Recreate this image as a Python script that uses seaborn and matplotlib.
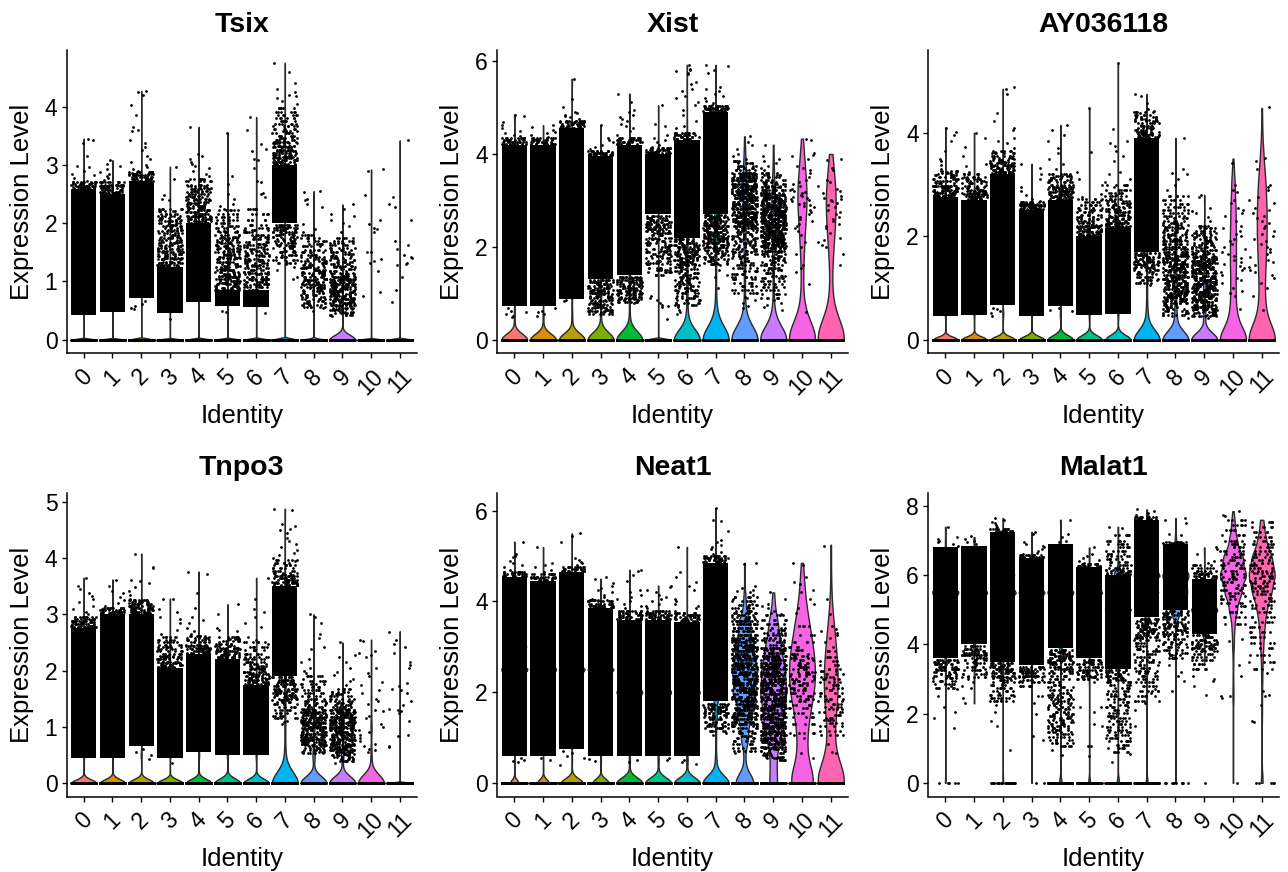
import numpy as np
import pandas as pd
import matplotlib
matplotlib.use("Agg")
import matplotlib.pyplot as plt
import seaborn as sns

identities = ["0", "1", "2", "3", "4", "5", "6", "7", "8", "9", "10", "11"]
colours = ["#F8766D", "#DE8C00", "#B79F00", "#7CAE00", "#00BA38", "#00C08B",
           "#00BFC4", "#00B4F0", "#619CFF", "#C77CFF", "#F564E3", "#FF64B0"]
# expression levels that the violin counts below refer to
vln_levels = [0, 0.5, 1, 1.5, 2, 2.5, 3, 3.5, 4, 4.5, 5, 5.5, 6, 6.5, 7, 7.5, 8]
mid_repeat = 6

# Tsix
tsix_band_lo = [0.43, 0.47, 0.72, 0.46, 0.65, 0.58, 0.56, 2.0, 0, 0, 0, 0]
tsix_band_hi = [2.58, 2.5, 2.72, 1.25, 2.0, 0.85, 0.85, 3.0, 0, 0, 0, 0]
tsix_vln_top = [3.45, 3.08, 4.27, 2.97, 3.65, 3.55, 3.82, 4.75, 2.55, 2.32, 2.92, 3.42]
tsix_vln_bw = [0.01, 0.01, 0.01, 0.01, 0.01, 0.01, 0.01, 0.015, 0.015, 0.08, 0.01, 0.01]
tsix_vln_counts = [[300, 2, 2, 2], [300, 2, 2, 2], [300, 2, 2, 2], [300, 2, 1], [300, 2, 2], [300, 2, 2],
                   [300, 2, 2], [300, 0, 0, 1, 2, 2, 1], [300, 1, 2, 1], [100, 3, 3, 1], [300, 0, 1, 1], [300, 0, 1, 1]]
tsix_zero_n = [200] * 12
tsix_tips = [
    [3.45, 3.42, 3.38, 3.15, 2.98, 2.97, 2.9, 2.85, 2.82, 2.78, 2.72, 2.68, 2.66, 2.63, 2.61, 2.6],
    [3.08, 3.02, 2.98, 2.92, 2.88, 2.85, 2.8, 2.78, 2.74, 2.7, 2.66, 2.62, 2.58, 2.54, 2.52],
    [4.27, 4.25, 4.2, 4.03, 3.85, 3.65, 3.6, 3.58, 3.42, 3.38, 3.3, 3.25, 3.15, 3.1, 3.05, 3.0, 2.97, 2.93, 2.9, 2.86, 2.82, 2.78, 0.52, 0.55, 0.58, 0.62, 0.66],
    [2.97, 2.75, 2.48, 2.42, 2.4, 0.35],
    [3.65, 3.18, 3.15, 3.1, 3.05, 3.02, 2.98, 2.95, 2.9, 2.85, 2.8],
    [3.55, 2.8, 2.67, 2.5, 2.42, 2.33, 2.3, 2.25, 0.47, 0.5],
    [3.82, 3.6, 3.35, 3.28, 3.23, 3.1, 3.08, 2.95, 2.73, 2.7, 2.52, 2.5, 2.45, 0.46],
    [4.75, 4.6, 4.4, 4.3, 4.25, 4.2, 4.18, 4.15, 4.1, 4.05, 1.25, 1.2, 1.05, 1.08, 1.3, 1.35],
    [2.55, 2.53, 2.42, 2.4, 2.32, 2.27, 1.98, 1.9, 1.85, 1.8, 0.55, 0.5],
    [2.32, 2.25, 2.15, 2.12, 2.05, 2.0, 1.95, 1.85, 0.4, 0.42],
    [2.92, 2.9, 2.48, 2.05, 1.98, 1.92, 1.9, 1.85, 1.5, 1.5, 1.38, 1.35, 1.32, 1.18, 0.82, 0.75],
    [3.42, 2.45, 2.33, 2.27, 2.05, 1.7, 1.62, 1.55, 1.45, 1.42, 1.4, 1.32, 1.3, 1.28, 1.08, 0.85, 0.65],
]
tsix_cloud_w = [10, 10, 10, 10, 10, 9, 8, 10, 8, 12, 0, 0]
tsix_cloud = [
    [2.59, 2.62, 2.64, 2.67, 2.7],
    [2.51, 2.54, 2.57, 2.6, 2.63, 2.66, 2.7],
    [2.73, 2.76, 2.79, 2.82, 2.85, 2.88],
    [1.26, 1.29, 1.31, 1.34, 1.38, 1.4, 1.43, 1.47, 1.5, 1.53],
    [2.01, 2.04, 2.07, 2.1, 2.13, 2.16, 2.19, 2.22, 2.26, 2.3],
    [0.86, 0.89, 0.92, 0.95, 0.98, 1.01, 1.04, 1.07, 1.1, 1.13, 1.16, 1.2],
    [0.86, 0.9, 0.93, 0.96, 0.99, 1.02, 1.05, 1.08, 1.12, 1.15],
    [1.85, 1.88, 1.91, 1.94, 1.97, 3.02, 3.05, 3.08, 3.11, 3.14, 3.17, 3.2, 3.23, 3.26, 3.3, 3.33, 3.37, 3.4],
    [0.9, 0.93, 0.96, 0.99, 1.02, 1.05, 1.08, 1.11, 1.14, 1.17, 1.2, 1.23],
    [0.6, 0.63, 0.66, 0.69, 0.72, 0.75, 0.78, 0.81, 0.84, 0.87, 0.9, 0.93, 0.96, 0.99, 1.02, 1.05, 1.08],
    [], [],
]
tsix_mid = [
    [], [], [],
    [1.56, 1.58, 1.61, 1.63, 1.66, 1.68, 1.71, 1.74, 1.76, 1.79, 1.83, 1.86, 1.89, 1.91, 1.95, 1.97, 2.0, 2.03, 2.06, 2.08, 2.13, 2.16, 2.2, 2.24],
    [2.32, 2.34, 2.37, 2.39, 2.41, 2.44, 2.46, 2.5, 2.53, 2.55, 2.58, 2.6, 2.64, 2.66, 2.72, 2.76],
    [1.22, 1.25, 1.27, 1.3, 1.33, 1.34, 1.38, 1.4, 1.42, 1.45, 1.47, 1.5, 1.52, 1.55, 1.57, 1.6, 1.63, 1.66, 1.68, 1.71, 1.74, 1.77, 1.8, 1.84, 1.87, 1.91, 1.95, 2.0, 2.05, 2.1, 2.15, 2.22],
    [1.17, 1.2, 1.23, 1.26, 1.28, 1.31, 1.35, 1.37, 1.39, 1.43, 1.46, 1.48, 1.53, 1.56, 1.59, 1.62, 1.65, 1.68, 1.72, 1.76, 1.8, 1.84, 1.88, 1.92, 1.96, 2.05, 2.15, 2.24],
    [1.32, 1.37, 1.42, 1.46, 1.5, 1.53, 1.57, 1.6, 1.63, 1.66, 1.7, 1.73, 1.76, 1.79, 1.82, 3.43, 3.46, 3.5, 3.54, 3.58, 3.62, 3.66, 3.7, 3.75, 3.8, 3.85, 3.9, 3.97],
    [0.56, 0.6, 0.63, 0.66, 0.7, 0.74, 0.77, 0.8, 0.83, 0.86, 0.88, 1.25, 1.28, 1.31, 1.35, 1.38, 1.42, 1.46, 1.5, 1.54, 1.6, 1.65, 1.7, 1.75, 1.8],
    [0.43, 0.46, 0.48, 0.51, 0.53, 0.55, 0.57, 1.1, 1.12, 1.15, 1.18, 1.21, 1.24, 1.27, 1.3, 1.33, 1.36, 1.4, 1.43, 1.47, 1.5, 1.54, 1.58, 1.62, 1.66, 1.7, 1.74],
    [], [],
]

# Xist
xist_band_lo = [0.72, 0.72, 0.88, 1.3, 1.4, 2.7, 2.2, 2.7, 0, 0, 0, 0]
xist_band_hi = [4.2, 4.2, 4.55, 3.95, 4.2, 4.0, 4.3, 4.9, 0, 0, 0, 0]
xist_vln_top = [4.85, 4.62, 5.62, 4.62, 5.3, 5.05, 5.92, 5.92, 4.38, 4.2, 4.33, 3.9]
xist_vln_bw = [0.13, 0.13, 0.14, 0.16, 0.18, 0.01, 0.22, 0.28, 0.28, 0.28, 0.36, 0.4]
xist_vln_counts = [[60, 2, 2, 2, 3, 3, 3, 3], [60, 2, 2, 2, 3, 3, 3, 3], [60, 2, 2, 2, 3, 3, 3, 3], [60, 2, 3, 3, 3, 3, 3, 2],
                   [60, 2, 3, 3, 3, 3, 3, 3], [300, 1, 1, 1, 2, 3, 3, 3, 2], [70, 4, 3, 3, 3, 3, 3, 3, 2, 1], [80, 6, 2, 2, 4, 6, 8, 8, 5, 2],
                   [80, 6, 2, 3, 4, 6, 9, 9, 3], [80, 6, 2, 3, 5, 8, 9, 4, 1], [100, 14, 5, 5, 10, 15, 24, 18, 9], [100, 14, 5, 5, 12, 18, 24, 16, 5]]
xist_zero_n = [200] * 12
xist_tips = [
    [4.85, 4.82, 4.68, 4.62, 4.55, 4.5, 4.45, 4.4, 4.38, 4.35, 4.32, 4.28, 4.25, 0.68, 0.62, 0.55, 0.48, 0.6, 0.5],
    [4.62, 4.58, 4.52, 4.48, 4.45, 4.4, 4.36, 4.32, 4.28, 4.25, 0.68, 0.62, 0.55, 0.5, 0.6],
    [5.62, 5.18, 5.02, 4.9, 4.88, 4.85, 4.82, 4.8, 4.75, 4.7, 4.68, 4.65, 4.62, 4.6, 0.85, 0.83],
    [4.62, 4.35, 4.3, 4.25, 4.2, 4.15, 4.1, 4.05, 4.02, 4.0],
    [5.3, 5.12, 4.95, 4.9, 4.85, 4.8, 4.75, 4.7, 4.65, 4.6, 4.55, 4.5, 4.4, 4.35, 4.3, 4.25, 0.8, 0.82],
    [5.05, 4.65, 4.6, 4.4, 4.35, 4.3, 4.25, 4.2, 4.15, 4.12, 4.08, 4.05, 0.9, 0.85, 0.78, 0.75, 0.72, 0.7, 0.45, 0.95],
    [5.92, 5.82, 5.8, 5.78, 5.75, 5.72, 5.55, 5.5, 5.4, 5.35, 5.25, 5.2, 5.12, 5.05, 4.95, 4.85, 4.7, 4.6, 4.55, 4.45, 4.4, 0.55, 0.6, 0.65, 0.7, 0.75],
    [5.92, 5.9, 5.8, 5.75, 5.45, 5.4, 5.35, 5.3, 5.25, 5.2, 5.15, 5.1, 5.05, 5, 4.96, 1.5, 1.4, 1.35, 1.12, 1.6],
    [4.38, 4.25, 4.2, 4.1, 4.0, 3.95, 3.9, 0.9, 0.85, 0.8, 0.72, 0.68, 0.92],
    [4.2, 3.95, 3.9, 3.85, 3.8, 3.75, 3.7, 3.65, 0.85, 0.8, 0.7, 0.65, 0.75],
    [4.33, 4.3, 4.02, 3.98, 3.95, 3.9, 3.75, 3.7, 3.65, 3.6, 3.5, 3.45, 3.4, 3.35, 3.3, 3.25, 3.22, 3.2, 3.18, 3.15, 3.12, 3.1, 3.08, 3.05, 3.02, 3, 2.98, 2.95, 2.92, 2.9, 2.88, 2.85, 2.8, 2.75, 2.7, 2.65, 2.6, 2.55, 2.5, 2.45, 2.4, 2.35, 2.25, 2.1, 2.0, 1.85, 1.6, 1.55, 1.45, 1.2, 0.6],
    [3.9, 3.88, 3.7, 3.65, 3.45, 3.4, 3.3, 3.25, 3.2, 3.15, 3.1, 3.05, 3.02, 3, 2.98, 2.95, 2.9, 2.85, 2.8, 2.75, 2.7, 2.65, 2.6, 2.55, 2.5, 2.45, 2.4, 2.3, 2.2, 2.15, 2.1, 2.05, 2.0, 1.85, 1.6],
]
xist_cloud_w = [10, 10, 10, 10, 10, 10, 10, 12, 14, 16, 0, 0]
xist_cloud = [
    [4.22, 4.26, 4.3, 4.34],
    [4.22, 4.26, 4.3, 4.34],
    [4.57, 4.6, 4.64, 4.68, 4.72],
    [3.97, 4, 4.03, 4.06, 1.0, 1.04, 1.08, 1.12, 1.16, 1.2, 1.24, 1.28],
    [4.22, 4.26, 4.3, 4.34, 1.0, 1.04, 1.08, 1.12, 1.16, 1.2, 1.24, 1.28, 1.32, 1.36],
    [2.3, 2.34, 2.38, 2.42, 2.46, 2.5, 2.54, 2.58, 2.62, 2.66, 4.02, 4.05, 4.08, 4.12],
    [1.6, 1.64, 1.68, 1.72, 1.76, 1.8, 1.84, 1.88, 1.92, 1.96, 2, 2.04, 2.08, 2.12, 2.16, 4.32, 4.36, 4.4, 4.45],
    [2.0, 2.04, 2.08, 2.12, 2.16, 2.2, 2.24, 2.28, 2.32, 2.36, 2.4, 2.44, 2.48, 2.52, 2.56, 2.6, 2.64, 2.68, 4.92, 4.96, 5, 5.04],
    [2.4, 2.44, 2.49, 2.53, 2.56, 2.61, 2.64, 2.69, 2.72, 2.76, 2.81, 2.84, 2.88, 2.93, 2.96, 3, 3.05, 3.08, 3.12, 3.17, 3.2, 3.24, 3.29, 3.32, 3.36, 3.41, 3.44, 3.48, 3.53, 3.56, 3.6],
    [1.92, 1.97, 2.01, 2.05, 2.09, 2.13, 2.17, 2.21, 2.25, 2.3, 2.34, 2.38, 2.43, 2.47, 2.51, 2.55, 2.6, 2.64, 2.68, 2.72, 2.77, 2.81, 2.85, 2.9, 2.94, 2.98, 3.03, 3.07, 3.12, 3.17, 3.22, 3.28],
    [], [],
]
xist_mid = [
    [], [], [],
    [0.56, 0.59, 0.62, 0.65, 0.68, 0.71, 0.74, 0.77, 0.8, 0.83, 0.86, 0.89, 0.92, 0.95, 0.98],
    [0.82, 0.85, 0.88, 0.9, 0.93, 0.96, 0.98],
    [1.4, 1.45, 1.5, 1.55, 1.62, 1.66, 1.7, 1.75, 1.8, 1.84, 1.88, 1.92, 1.96, 2, 2.04, 2.08, 2.12, 2.16, 2.2, 2.25],
    [0.75, 0.8, 0.85, 0.9, 0.95, 1, 1.04, 1.08, 1.12, 1.16, 1.2, 1.24, 1.28, 1.32, 1.36, 1.4, 1.44, 1.48, 1.52, 1.56],
    [1.62, 1.66, 1.7, 1.74, 1.78, 1.82, 1.86, 1.9, 1.94, 1.98],
    [1, 1.08, 1.15, 1.22, 1.3, 1.36, 1.42, 1.48, 1.54, 1.6, 1.65, 1.7, 1.75, 1.8, 1.84, 1.88, 1.92, 1.96, 2, 2.04, 2.08, 2.12, 2.16, 2.2, 2.24, 2.28, 2.32, 2.36, 3.66, 3.7, 3.75, 3.8, 3.85],
    [0.9, 0.98, 1.06, 1.14, 1.2, 1.26, 1.32, 1.38, 1.44, 1.5, 1.55, 1.6, 1.64, 1.68, 1.72, 1.76, 1.8, 1.84, 1.88, 3.32, 3.36, 3.4, 3.45, 3.5, 3.55, 3.6],
    [], [],
]

# AY036118
ay_band_lo = [0.45, 0.47, 0.68, 0.45, 0.65, 0.47, 0.5, 1.7, 0, 0, 0, 0]
ay_band_hi = [2.75, 2.7, 3.2, 2.5, 2.7, 2.0, 2.15, 3.9, 0, 0, 0, 0]
ay_vln_top = [4.1, 4.0, 4.85, 3.4, 4.15, 4.47, 5.35, 4.75, 3.9, 2.8, 3.45, 4.48]
ay_vln_bw = [0.055, 0.06, 0.06, 0.065, 0.085, 0.085, 0.09, 0.19, 0.17, 0.14, 0.24, 0.28]
ay_vln_counts = [[80, 3, 4, 4, 3], [80, 3, 4, 4, 3], [80, 3, 3, 4, 4, 3], [80, 3, 4, 4, 3], [80, 3, 4, 4, 3], [80, 3, 4, 4, 2],
                 [80, 3, 4, 4, 3], [90, 6, 3, 4, 6, 8, 8, 3], [90, 8, 8, 8, 5, 2], [90, 8, 8, 6, 3], [70, 16, 12, 14, 14, 12, 8, 1], [70, 16, 12, 16, 20, 20, 16, 8, 2]]
ay_zero_n = [200] * 12
ay_tips = [
    [4.1, 4.02, 3.95, 3.85, 3.65, 3.5, 3.45, 3.38, 3.3, 3.25, 3.2, 3.15, 3.1, 3.05, 3.0, 2.95, 2.9, 2.85, 2.8],
    [4.0, 3.9, 3.72, 3.55, 3.4, 3.35, 3.25, 3.2, 3.12, 3.05, 3.0, 2.95, 2.9, 2.85, 2.8, 2.76],
    [4.85, 4.88, 4.75, 4.38, 4.22, 4.1, 4.05, 3.9, 3.85, 3.8, 3.7, 3.62, 3.55, 3.5, 3.45, 3.4, 3.35, 3.3, 3.25, 0.45, 0.52, 0.55, 0.6, 0.62],
    [3.4, 3.32, 3.2, 3.1, 2.95, 2.88, 2.8, 2.72, 2.68, 2.62, 2.58, 2.55],
    [4.15, 4.05, 3.95, 3.85, 3.7, 3.6, 3.5, 3.4, 3.3, 3.2, 3.15, 3.1, 3.05, 3.0, 2.95, 2.9, 2.85, 2.8, 2.75, 0.55, 0.58, 0.62],
    [4.47, 3.62, 3.25, 3.1, 3.0, 2.82, 2.75, 2.7, 2.6, 2.55, 2.5, 2.42, 2.38, 2.33, 2.28, 2.2, 2.15, 2.1, 2.05],
    [5.35, 4.08, 3.85, 3.8, 3.75, 3.65, 3.55, 3.45, 3.25, 3.2, 3.1, 3.05, 3.0, 2.95, 2.9, 2.8, 2.7, 2.62, 2.55, 2.5, 2.45, 2.4, 2.35, 2.3, 2.25, 2.2],
    [4.75, 4.72, 4.58, 4.45, 4.42, 4.38, 4.3, 4.25, 4.2, 4.15, 4.1, 4.05, 4.0, 3.95, 1.05, 1.12, 1.18, 1.22],
    [3.9, 3.3, 3.22, 3.2, 3.1, 3.0, 2.9, 0.42, 0.45],
    [2.8, 2.75, 2.55, 2.48, 2.45, 2.38, 2.3, 0.42, 0.45],
    [3.42, 3.0, 2.9, 2.85, 2.7, 2.65, 2.55, 2.5, 2.45, 2.4, 2.3, 2.2, 2.15, 2.1, 2.05, 2.0, 1.95, 1.9, 1.85, 1.8, 1.75, 1.7, 1.65, 1.62, 1.58, 1.55, 1.5, 1.46, 1.42, 1.38, 1.35, 1.3, 1.25, 1.2, 1.15, 1.1, 1.0, 0.95, 0.9, 0.85, 0.6],
    [4.5, 3.52, 3.45, 3.3, 3.0, 2.95, 2.9, 2.75, 2.7, 2.65, 2.55, 2.5, 2.45, 2.4, 2.35, 2.3, 2.25, 2.2, 2.15, 2.1, 2.05, 2.0, 1.95, 1.9, 1.85, 1.8, 1.75, 1.7, 1.65, 1.6, 1.55, 1.5, 1.45, 1.4, 1.35, 1.3, 1.25, 1.2, 1.1, 1.0, 0.85, 0.58],
]
ay_cloud_w = [10, 10, 10, 10, 10, 10, 10, 10, 12, 13, 0, 0]
ay_cloud = [
    [2.77, 2.8, 2.83, 2.87, 2.9, 2.93, 2.97],
    [2.72, 2.75, 2.78, 2.81, 2.84, 2.88],
    [3.22, 3.25, 3.28, 3.31, 3.35, 3.38, 3.42],
    [2.52, 2.55, 2.58, 2.6, 2.63, 2.66],
    [2.72, 2.75, 2.78, 2.81, 2.85, 2.88, 2.92, 2.95],
    [2.02, 2.05, 2.08, 2.11, 2.14, 2.17, 2.2],
    [2.17, 2.2, 2.23, 2.26, 2.3, 2.34, 2.38, 2.42, 2.46],
    [1.44, 1.47, 1.5, 1.53, 1.56, 1.6, 1.64, 1.67, 3.92, 3.95, 3.98, 4.02],
    [0.7, 0.74, 0.78, 0.82, 0.86, 0.9, 0.94, 0.98, 1.02, 1.06, 1.1, 1.14, 1.18, 1.22, 1.26, 1.3, 1.34, 1.38, 1.42, 1.46, 1.5, 1.54, 1.58, 1.62, 1.66, 1.7, 1.75, 1.8, 1.85, 1.9],
    [0.6, 0.64, 0.68, 0.72, 0.76, 0.8, 0.84, 0.88, 0.92, 0.96, 1.0, 1.04, 1.08, 1.12, 1.16, 1.2, 1.24, 1.28, 1.32, 1.36, 1.4, 1.44, 1.48, 1.52, 1.56, 1.6],
    [], [],
]
ay_mid = [
    [2.98, 3.02, 3.06, 3.1, 3.14, 3.18, 3.22, 3.26],
    [2.9, 2.94, 2.98, 3.02, 3.06, 3.1, 3.15, 3.2],
    [3.44, 3.48, 3.52, 3.56, 3.6, 3.65],
    [],
    [2.96, 3, 3.04, 3.08, 3.12, 3.16, 3.2],
    [2.22, 2.26, 2.3, 2.34, 2.38, 2.42, 2.46, 2.5, 2.55, 2.6, 2.66, 2.72],
    [2.48, 2.52, 2.56, 2.6, 2.64, 2.68, 2.72, 2.78, 2.84, 2.9, 3],
    [1.1, 1.16, 1.22, 1.27, 1.31, 1.35, 1.38, 1.41, 4.06, 4.1, 4.14, 4.18, 4.22, 4.26, 4.3, 4.35, 4.4],
    [0.48, 0.52, 0.56, 0.6, 0.64, 0.68, 1.92, 1.95, 1.98, 2.02, 2.05, 2.08, 2.12, 2.15, 2.18, 2.22, 2.26, 2.3, 2.35, 2.4, 2.45, 2.5, 2.56, 2.62, 2.7, 2.78],
    [0.45, 0.48, 0.51, 0.54, 0.57, 1.62, 1.65, 1.68, 1.71, 1.74, 1.77, 1.8, 1.83, 1.87, 1.9, 1.94, 1.98, 2.02, 2.06, 2.1, 2.15, 2.2],
    [], [],
]

# Tnpo3
tnpo_band_lo = [0.45, 0.45, 0.65, 0.45, 0.55, 0.5, 0.5, 1.9, 0, 0, 0, 0]
tnpo_band_hi = [2.75, 3.0, 3.0, 2.05, 2.3, 2.2, 1.75, 3.5, 0, 0, 0, 0]
tnpo_vln_top = [3.65, 3.62, 4.08, 3.28, 3.76, 3.18, 3.65, 4.88, 3.0, 2.5, 2.55, 2.7]
tnpo_vln_bw = [0.06, 0.065, 0.065, 0.06, 0.07, 0.08, 0.075, 0.2, 0.12, 0.12, 0.15, 0.01]
tnpo_vln_counts = [[80, 3, 4, 4, 3], [80, 3, 4, 4, 3], [80, 3, 4, 4, 3], [80, 3, 4, 3], [80, 3, 4, 4], [80, 3, 4, 4],
                   [80, 3, 4, 3], [90, 4, 3, 4, 6, 8, 8, 3], [90, 8, 6, 2], [90, 8, 6, 2], [100, 4, 4, 2, 1], [300, 0, 1, 2, 1]]
tnpo_zero_n = [200] * 12
tnpo_tips = [
    [3.65, 3.5, 3.45, 3.38, 3.32, 3.28, 3.22, 3.15, 3.1, 3.05, 3.0, 2.95, 2.9, 2.85, 2.8],
    [3.62, 3.5, 3.42, 3.38, 3.3, 3.25, 3.2, 3.15, 3.1, 3.05],
    [4.08, 3.85, 3.82, 3.62, 3.6, 3.55, 3.48, 3.42, 3.35, 3.28, 3.2, 3.15, 3.1, 3.05, 0.42, 0.5, 0.55, 0.6],
    [3.28, 3.27, 3.1, 3.05, 2.95, 2.92, 2.85, 2.72, 2.65, 2.55, 2.5, 2.42, 2.36, 2.3, 2.25, 2.2, 2.15, 2.1, 0.35],
    [3.76, 3.72, 3.38, 3.12, 2.95, 2.9, 2.85, 2.75, 2.7, 2.65, 2.6, 2.55, 2.5, 2.45, 2.4, 2.35],
    [3.18, 3.0, 2.75, 2.72, 2.7, 2.6, 2.55, 2.5, 2.45, 2.4, 2.35, 2.3, 2.25],
    [3.65, 3.28, 3.1, 3.05, 2.95, 2.85, 2.78, 2.6, 2.55, 2.48, 2.42, 2.3, 2.2, 2.15, 2.05, 2.0, 1.95, 1.9, 1.85, 1.8],
    [4.88, 4.85, 4.6, 4.58, 4.52, 4.5, 4.45, 4.35, 4.3, 4.25, 4.2, 4.15, 4.1, 4.05, 4.0, 3.95, 1.05, 1.08, 1.1],
    [3.0, 2.95, 2.85, 2.65, 2.58, 2.42, 2.38, 2.2, 2.15, 2.05, 2.0, 1.95, 1.9, 1.85],
    [2.5, 2.28, 2.25, 2.15, 2.05, 1.98, 1.92, 1.85, 1.82, 1.75, 0.36, 0.4],
    [2.55, 2.52, 2.35, 2.32, 2.28, 2.25, 2.05, 1.95, 1.9, 1.8, 1.75, 1.65, 1.6, 1.5, 1.45, 1.4, 1.3, 1.28, 1.2, 1.15, 1.05, 1.0, 0.95, 0.9, 0.85, 0.8, 0.75, 0.7, 0.65, 0.6, 0.58, 0.56],
    [2.68, 2.55, 2.48, 2.42, 2.32, 2.15, 2.1, 2.05, 1.78, 1.72, 1.68, 1.65, 1.6, 1.45, 1.38, 1.32, 1.3, 1.28, 1.25, 1.1, 0.85, 0.84, 0.66, 0.64],
]
tnpo_cloud_w = [10, 10, 10, 10, 10, 10, 10, 10, 12, 13, 0, 0]
tnpo_cloud = [
    [2.77, 2.8, 2.83, 2.86, 2.89, 2.92, 2.96],
    [3.02, 3.05, 3.08, 3.11],
    [3.02, 3.05, 3.08, 3.12, 3.15, 3.18, 3.22, 3.26],
    [2.07, 2.1, 2.13, 2.16, 2.2, 2.24],
    [2.32, 2.35, 2.38, 2.41, 2.44],
    [2.22, 2.25, 2.28, 2.31, 2.34, 2.38],
    [1.77, 1.8, 1.83, 1.86, 1.9, 1.94, 1.98, 2.02],
    [1.5, 1.53, 1.56, 1.6, 1.64, 1.68, 1.72, 1.76, 1.8, 1.84, 1.88, 3.52, 3.55, 3.58, 3.62, 3.65, 3.68],
    [0.7, 0.73, 0.76, 0.79, 0.82, 0.85, 0.88, 0.91, 0.94, 0.97, 1, 1.03, 1.06, 1.09, 1.12, 1.15, 1.18, 1.21, 1.24, 1.27, 1.3],
    [0.55, 0.58, 0.61, 0.64, 0.67, 0.7, 0.73, 0.76, 0.79, 0.82, 0.85, 0.88, 0.91, 0.94, 0.97, 1, 1.03, 1.06, 1.09, 1.12, 1.15, 1.18, 1.21, 1.24, 1.27, 1.3],
    [], [],
]
tnpo_mid = [
    [], [], [],
    [2.26, 2.3, 2.34, 2.38, 2.42, 2.46, 2.5, 2.55, 2.6],
    [2.46, 2.5, 2.54, 2.58, 2.62],
    [2.4, 2.44, 2.48, 2.52, 2.56, 2.6],
    [2.04, 2.08, 2.12, 2.16, 2.2, 2.25, 2.3, 2.36, 2.42, 2.5],
    [1.15, 1.2, 1.25, 1.3, 1.35, 1.4, 1.44, 1.47, 3.7, 3.74, 3.78, 3.82, 3.87, 3.92, 3.97],
    [0.53, 0.56, 0.59, 0.62, 0.65, 0.68, 1.32, 1.35, 1.38, 1.42, 1.46, 1.5, 1.55, 1.6, 1.65, 1.7, 1.76, 1.82, 1.9],
    [0.4, 0.43, 0.46, 0.49, 0.52, 1.32, 1.35, 1.38, 1.42, 1.46, 1.5, 1.54, 1.58, 1.62, 1.68],
    [], [],
]

# Neat1
neat_band_lo = [0.6, 0.6, 0.75, 0.6, 0.6, 0.6, 0.6, 1.8, 0, 0, 0, 0]
neat_band_hi = [4.55, 4.45, 4.65, 3.85, 3.6, 3.6, 3.55, 4.85, 0, 0, 0, 0]
neat_vln_top = [5.32, 5.2, 5.5, 4.5, 4.7, 4.35, 5.2, 6.05, 4.85, 4.2, 4.85, 5.25]
neat_vln_bw = [0.07, 0.08, 0.1, 0.09, 0.12, 0.12, 0.12, 0.17, 0.2, 0.25, 0.34, 0.36]
neat_vln_counts = [[25, 0, 12, 30, 60, 80, 70, 40, 20], [35, 0, 12, 30, 60, 80, 70, 40, 15], [60, 1, 12, 30, 60, 70, 60, 40, 25], [45, 2, 12, 30, 60, 70, 50, 20, 1],
                   [70, 3, 15, 40, 70, 60, 40, 3], [70, 3, 15, 40, 70, 60, 40, 3], [70, 4, 15, 40, 70, 60, 40, 3], [90, 5, 3, 8, 25, 50, 60, 50, 40, 15], [40, 3, 15, 30, 50, 55, 40, 25, 5, 1], [16, 12, 25, 40, 50, 45, 30, 18, 4, 0],
                   [26, 8, 8, 12, 20, 22, 18, 12, 6, 3], [46, 14, 7, 12, 16, 16, 12, 7, 2, 1]]
neat_zero_n = [200] * 12
neat_tips = [
    [5.32, 5.05, 5.0, 4.98, 4.9, 4.85, 4.8, 4.75, 4.7, 4.65, 4.62, 0.45, 0.48, 0.5, 0.55],
    [5.2, 4.85, 4.8, 4.75, 4.7, 4.65, 4.6, 4.55, 4.5, 0.5, 0.55],
    [5.5, 5.45, 5.3, 4.95, 4.92, 4.88, 4.85, 4.8, 4.75, 4.72, 0.4, 0.55, 0.6, 0.65, 0.7],
    [4.55, 4.5, 4.4, 4.35, 4.3, 4.25, 4.2, 4.15, 4.1, 4.05, 4.0, 3.95, 3.9, 0.48, 0.52],
    [4.7, 4.68, 4.58, 4.45, 4.25, 4.2, 4.15, 4.1, 4.05, 4.0, 3.95, 3.9, 3.85, 3.8, 3.75, 3.7, 3.65, 0.45, 0.5],
    [4.35, 4.32, 4.25, 4.2, 4.15, 4.1, 4.05, 4.0, 3.95, 3.9, 3.85, 3.8, 3.75, 3.7, 3.65, 0.5, 0.55],
    [5.2, 4.65, 4.55, 4.42, 4.35, 4.25, 4.05, 4.0, 3.95, 3.9, 3.85, 3.8, 3.75, 3.7, 3.65, 3.6, 0.42, 0.45, 0.5],
    [6.05, 5.8, 5.78, 5.55, 5.35, 5.3, 5.25, 5.2, 5.15, 5.1, 5.05, 5.0, 4.95, 4.9, 1.05, 1.1, 1.15, 1.22, 1.28],
    [4.85, 4.83, 4.35, 4.3, 4.25, 4.22, 4.2, 4.15, 4.1, 4.05, 4.0, 3.95, 3.9, 0.65, 0.7],
    [4.2, 4.05, 3.95, 3.9, 3.85, 3.8, 3.75, 3.72],
    [4.85, 4.8, 4.55, 4.42, 4.38, 4.25, 4.2, 4.05, 3.95, 3.85, 3.75, 0.55, 0.65, 1.0, 1.05],
    [5.22, 4.05, 3.72, 3.45, 3.4, 3.35, 3.3, 3.25, 3.2, 3.1, 3.0, 0.85, 0.65, 0.68],
]
neat_cloud_w = [10, 10, 10, 10, 10, 10, 10, 10, 14, 15, 5, 4]
neat_cloud = [
    [4.57, 4.61, 4.65],
    [4.47, 4.51, 4.55, 4.6],
    [4.67, 4.71, 4.75],
    [3.87, 3.91, 3.95, 4, 4.04],
    [3.62, 3.66, 3.7, 3.75, 3.8],
    [3.62, 3.66, 3.7, 3.75, 3.8],
    [3.57, 3.61, 3.65, 3.7, 3.75],
    [1.55, 1.59, 1.63, 1.67, 1.71, 1.75, 4.87, 4.91, 4.95, 5],
    [1.3, 1.35, 1.4, 1.45, 1.5, 1.55, 1.6, 1.65, 1.7, 1.75, 1.8, 1.85, 1.9, 1.95, 2, 2.05, 2.1, 2.15, 2.2, 2.25, 2.3, 2.35, 2.4, 2.45, 2.5, 2.55, 2.6, 2.65, 2.7, 2.75, 2.8, 2.85, 2.9, 2.95, 3, 3.05, 3.1, 3.15, 3.2, 3.27, 3.34, 3.42, 3.5, 3.58],
    [0.8, 0.85, 0.9, 0.95, 1, 1.05, 1.1, 1.15, 1.2, 1.25, 1.3, 1.35, 1.4, 1.45, 1.5, 1.55, 1.6, 1.65, 1.7, 1.75, 1.8, 1.85, 1.9, 1.95, 2, 2.05, 2.1, 2.15, 2.2, 2.25, 2.3, 2.35, 2.4, 2.45, 2.5, 2.55, 2.6, 2.65, 2.7, 2.75, 2.8, 2.86, 2.92, 2.98],
    [1.1, 1.3, 1.45, 1.55, 1.65, 1.72, 1.8, 1.86, 1.92, 1.98, 2.04, 2.1, 2.15, 2.2, 2.25, 2.3, 2.35, 2.4, 2.45, 2.5, 2.55, 2.6, 2.65, 2.7, 2.75, 2.8, 2.85, 2.92, 3.0, 3.1, 3.25, 3.45],
    [1.05, 1.15, 1.25, 1.32, 1.38, 1.44, 1.5, 1.56, 1.62, 1.68, 1.74, 1.8, 1.86, 1.92, 1.98, 2.04, 2.1, 2.16, 2.22, 2.28, 2.34, 2.4, 2.46, 2.52, 2.6, 2.68, 2.78, 2.9],
]
neat_mid = [
    [], [], [], [], [], [], [],
    [1.15, 1.2, 1.25, 1.3, 1.35, 1.4, 1.45, 1.5],
    [0.7, 0.78, 0.86, 0.92, 0.98, 1.04, 1.1, 1.15, 1.2, 1.25, 3.62, 3.66, 3.7, 3.75, 3.8, 3.86, 3.92, 4, 4.1],
    [0.5, 0.54, 0.58, 0.62, 0.66, 0.7, 0.74, 0.78, 3.05, 3.1, 3.15, 3.2, 3.25, 3.3, 3.36, 3.42, 3.5, 3.6, 3.7],
    [], [],
]

# Malat1
malat_band_lo = [3.6, 4.0, 3.5, 3.4, 3.9, 3.6, 3.3, 4.8, 5.0, 4.3, 0, 0]
malat_band_hi = [6.8, 6.85, 7.25, 6.5, 6.9, 6.25, 6.0, 7.6, 6.9, 5.9, 0, 0]
malat_vln_top = [7.4, [7.1, 2.3], 7.65, 7.25, 7.6, 6.8, 7.4, 7.9, 7.65, 6.8, 7.85, 7.6]
malat_vln_bw = [0.14, 0.14, 0.14, 0.14, 0.14, 0.14, 0.14, 0.14, 0.2, 0.16, 0.22, 0.25]
malat_vln_counts = [[1, 0, 0, 0, 0, 0, 1, 3, 6, 14, 30, 45, 40, 15, 1], [0, 0, 0, 0, 0, 0, 1, 1, 3, 14, 30, 45, 40, 15, 1], [1, 0, 0, 0, 0, 0, 1, 1, 6, 14, 30, 45, 40, 20, 3],
                    [1, 0, 0, 0, 0, 0, 1, 2, 6, 14, 30, 45, 30, 3], [4, 0, 0, 1, 1, 1, 1, 1, 6, 14, 30, 45, 35, 8, 1], [3, 0, 0, 0, 0, 0, 1, 1, 8, 20, 40, 45, 20, 1], [4, 0, 0, 1, 1, 1, 1, 3, 12, 25, 45, 40, 15, 1, 1],
                    [3, 0, 0, 0, 0, 1, 1, 1, 1, 2, 20, 40, 45, 40, 25, 1], [1, 0, 0, 0, 0, 0, 0, 1, 1, 1, 18, 40, 45, 20, 2], [0, 0, 0, 0, 0, 0, 0, 1, 1, 20, 50, 30, 1],
                    [1, 0, 0, 0, 0, 2, 1, 1, 3, 5, 14, 30, 48, 36, 14, 6], [4, 0, 0, 0, 1, 1, 2, 3, 6, 10, 18, 36, 50, 38, 16, 6]]
malat_zero_n = [5, 0, 30, 2, 120, 90, 130, 80, 10, 1, 1, 5]
malat_tips = [
    [7.4, 7.1, 7.05, 7, 6.95, 6.9, 6.85, 2.8, 2.75, 2.7, 2.5, 2.2, 2.05, 1.87, 1.58],
    [7.12, 7.05, 7, 6.95, 6.9, 3.6, 3.5, 3.4, 3.3, 3.2, 3.1, 3, 2.9, 2.8, 2.75, 2.45, 2.3, 3.65, 3.55],
    [7.65, 7.6, 7.55, 7.5, 7.45, 7.4, 7.35, 7.3, 0.95, 1.65, 1.8, 2.05, 2.25, 2.35, 2.5, 2.4, 2.45, 2.6, 2.75, 2.85],
    [7.25, 7.2, 6.95, 6.9, 6.85, 6.8, 6.75, 6.7, 6.65, 6.6, 6.55, 2.5, 2.5, 2.3, 2, 1.35, 1.25, 2.9, 2.95, 3.05],
    [7.6, 7.2, 7.1, 7, 6.95, 0.8, 0.95, 1.05],
    [6.8, 6.6, 6.55, 6.5, 6.45, 6.4, 6.35, 6.3, 2.2, 2.2, 2.05, 1.7, 1.65, 1.07, 1.07, 0.77, 3.0, 2.9],
    [7.4, 7.35, 0.6, 0.82],
    [7.9, 7.85, 7.8, 7.75, 7.7, 7.65, 2.3, 2.1, 1.65, 2.6, 2.7],
    [7.65, 7.6, 7.5, 7.2, 7.15, 2.65, 2.95, 3.1, 3.2, 3.4],
    [6.8, 6.75, 6.6, 6.4, 6.35, 2.55, 2.8, 2.95, 3, 3.1],
    [7.85, 7.75, 7.7, 4.1, 4.15, 3.4, 3.1, 2.5, 2.45, 2.5],
    [2.65, 2.55, 2.5, 2.25, 1.78, 1.75, 3.17],
]
malat_cloud_w = [10, 10, 10, 10, 10, 10, 8, 9, 8, 9, 5, 5]
malat_cloud = [
    [3.3, 3.36, 3.42, 3.48, 3.54],
    [3.7, 3.76, 3.82, 3.88, 3.94],
    [3.1, 3.16, 3.22, 3.28, 3.34, 3.4, 3.46, 7.27, 7.32],
    [3.1, 3.16, 3.22, 3.28, 3.34, 6.52, 6.58],
    [3.3, 3.36, 3.42, 3.48, 3.54, 3.6, 3.66, 3.72, 3.78, 3.84],
    [3.2, 3.27, 3.34, 3.42, 3.5, 3.56, 6.27, 6.32],
    [2.9, 2.96, 3.02, 3.08, 3.14, 3.2, 3.26, 6.02, 6.07, 6.12],
    [4.2, 4.26, 4.32, 4.38, 4.44, 4.5, 4.56, 4.62, 4.68, 4.74, 7.62, 7.68],
    [4.3, 4.36, 4.42, 4.48, 4.54, 4.6, 4.66, 4.72, 4.78, 4.84, 4.9, 4.96, 6.92, 6.96],
    [3.9, 3.96, 4.02, 4.08, 4.14, 4.2, 4.26, 5.92, 5.98, 6.04],
    [4.6, 4.8, 4.95, 5.1, 5.2, 5.3, 5.4, 5.48, 5.56, 5.64, 5.72, 5.8, 5.88, 5.96, 6.04, 6.12, 6.2, 6.28, 6.36, 6.44, 6.52, 6.6, 6.7, 6.8, 6.9, 7, 7.15, 7.3, 7.45, 7.6],
    [3.3, 3.5, 3.7, 3.9, 4.05, 4.2, 4.35, 4.5, 4.65, 4.8, 4.95, 5.05, 5.15, 5.25, 5.35, 5.45, 5.55, 5.63, 5.7, 5.77, 5.84, 5.91, 5.98, 6.05, 6.12, 6.2, 6.28, 6.36, 6.44, 6.52, 6.6, 6.7, 6.8, 6.9, 7, 7.1, 7.25, 7.4, 7.55],
]
malat_mid = [
    [2.75, 2.85, 2.95, 3.02, 3.08, 3.14, 3.2, 3.25],
    [3.05, 3.15, 3.25, 3.35, 3.45, 3.55, 3.62, 3.68],
    [2.35, 2.45, 2.55, 2.65, 2.75, 2.82, 2.9, 2.96, 3.02, 3.06],
    [2.8, 2.9, 2.98, 3.05, 3.08],
    [1.05, 1.15, 1.25, 1.32, 1.4, 1.46, 1.52, 1.58, 1.64, 1.7, 1.76, 1.82, 1.88, 1.94, 2, 2.06, 2.12, 2.18, 2.24, 2.3, 2.36, 2.42, 2.48, 2.54, 2.6, 2.68, 2.76, 2.84, 2.92, 3, 3.08, 3.16, 3.24],
    [3.0, 3.05, 3.1, 3.15],
    [0.9, 1, 1.1, 1.2, 1.3, 1.38, 1.46, 1.54, 1.62, 1.7, 1.78, 1.86, 1.94, 2.02, 2.1, 2.18, 2.26, 2.34, 2.42, 2.5, 2.58, 2.66, 2.74, 2.82, 6.15, 6.22, 6.3, 6.38, 6.46, 6.54, 6.62, 6.7, 6.8, 6.9, 7, 7.15],
    [2.35, 2.5, 2.65, 2.8, 2.9, 3, 3.08, 3.16, 3.24, 3.32, 3.4, 3.48, 3.56, 3.64, 3.72, 3.8, 3.88, 3.96, 4.04, 4.12, 4.18],
    [3.6, 3.68, 3.76, 3.84, 3.92, 4, 4.08, 4.16, 4.24],
    [3.3, 3.42, 3.54, 3.64, 3.72, 3.8, 3.86, 6.06, 6.12, 6.2, 6.3],
    [], [],
]

# title, yticks, y limits, axes box in pixels (left, top, right, bottom), then the series
panels = [
    ("Tsix", [0, 1, 2, 3, 4], (-0.228, 4.97), (66.5, 50, 417, 353), tsix_band_lo, tsix_band_hi, tsix_vln_top, tsix_vln_bw, tsix_vln_counts, tsix_zero_n, tsix_tips, tsix_cloud, tsix_cloud_w, tsix_mid),
    ("Xist", [0, 2, 4, 6], (-0.287, 6.24), (497, 50, 848, 353), xist_band_lo, xist_band_hi, xist_vln_top, xist_vln_bw, xist_vln_counts, xist_zero_n, xist_tips, xist_cloud, xist_cloud_w, xist_mid),
    ("AY036118", [0, 2, 4], (-0.257, 5.6), (928, 50, 1279, 353), ay_band_lo, ay_band_hi, ay_vln_top, ay_vln_bw, ay_vln_counts, ay_zero_n, ay_tips, ay_cloud, ay_cloud_w, ay_mid),
    ("Tnpo3", [0, 1, 2, 3, 4, 5], (-0.24, 5.15), (66.5, 493.5, 417, 796.5), tnpo_band_lo, tnpo_band_hi, tnpo_vln_top, tnpo_vln_bw, tnpo_vln_counts, tnpo_zero_n, tnpo_tips, tnpo_cloud, tnpo_cloud_w, tnpo_mid),
    ("Neat1", [0, 2, 4, 6], (-0.30, 6.38), (497, 493.5, 848, 796.5), neat_band_lo, neat_band_hi, neat_vln_top, neat_vln_bw, neat_vln_counts, neat_zero_n, neat_tips, neat_cloud, neat_cloud_w, neat_mid),
    ("Malat1", [0, 2, 4, 6, 8], (-0.395, 8.36), (928, 493.5, 1279, 796.5), malat_band_lo, malat_band_hi, malat_vln_top, malat_vln_bw, malat_vln_counts, malat_zero_n, malat_tips, malat_cloud, malat_cloud_w, malat_mid),
]


def draw_panel(fig, title, yticks, ylim, box, band_lo, band_hi, vln_top, vln_bw, vln_counts, zero_n, tips, cloud, cloud_w, mid):
    left, top, right, bottom = box
    ax = fig.add_axes([left / W, 1 - bottom / H, (right - left) / W, (bottom - top) / H])

    # violins one by one, each cluster has its own bandwidth
    for i, name in enumerate(identities):
        counts = vln_counts[i]
        sample = np.concatenate([np.repeat(vln_levels[:len(counts)], counts), np.atleast_1d(vln_top[i])])
        sns.violinplot(x=[name] * len(sample), y=sample, order=identities, color=colours[i], saturation=1,
                       width=0.9, cut=0, inner=None, density_norm="width", bw_method=vln_bw[i] / sample.std(ddof=1),
                       linewidth=1.0, linecolor="#2a2a2a", ax=ax)

    # solid part of the jitter, too dense to tell single cells apart
    lo = np.array(band_lo)
    hi = np.array(band_hi)
    ax.bar(range(12), hi - lo, bottom=lo, width=0.88, color="black", linewidth=0, zorder=2)

    names, values = [], []
    for i, name in enumerate(identities):
        row = [0.0] * zero_n[i] + tips[i] + list(np.repeat(cloud[i], cloud_w[i])) + list(np.repeat(mid[i], mid_repeat))
        names += [name] * len(row)
        values += row
    dots = pd.DataFrame({"identity": names, "value": values})
    sns.stripplot(data=dots, x="identity", y="value", order=identities, color="black", size=2.0,
                  jitter=0.44, linewidth=0, zorder=3, ax=ax)

    ax.set_xlim(-0.6, 11.6)
    ax.set_ylim(*ylim)
    ax.set_yticks(yticks)
    ax.set_title(title, fontsize=20.5, fontweight="bold", pad=13, color="black")
    ax.set_xlabel("Identity", fontsize=18.5, color="black")
    ax.set_ylabel("Expression Level", fontsize=18.5, color="black")
    ax.xaxis.set_label_coords(0.5, -0.168)
    ax.yaxis.set_label_coords(-0.094, 0.5)
    ax.tick_params(axis="x", labelsize=16.5, rotation=45, length=3.5, width=1, pad=5, colors="black")
    ax.tick_params(axis="y", labelsize=16.5, length=3.5, width=1, pad=3, colors="black")
    sns.despine(ax=ax)
    for side in ["left", "bottom"]:
        ax.spines[side].set_linewidth(1.1)
        ax.spines[side].set_color("black")


W, H = 1288, 872

sns.set_theme(style="ticks")
plt.rcParams["font.family"] = ["Liberation Sans", "DejaVu Sans"]

fig = plt.figure(figsize=(W / 100, H / 100), dpi=100)
for panel in panels:
    draw_panel(fig, *panel)
fig.savefig("out.png", dpi=100)
